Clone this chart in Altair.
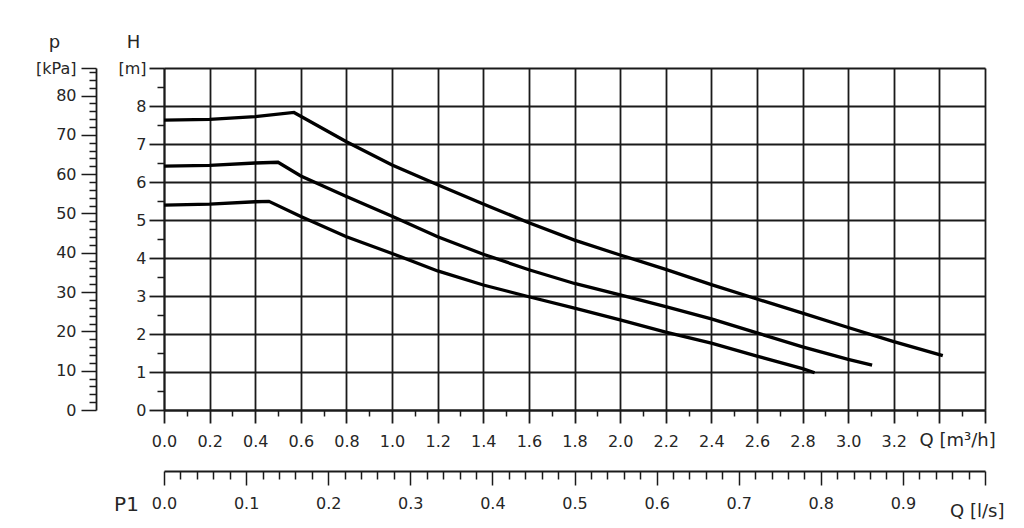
import altair as alt
import pandas as pd

# ---- curve data (Q in m3/h, H in m) ----
q_top = [0.0, 0.2, 0.4, 0.57, 0.8, 1.0, 1.2, 1.4, 1.6, 1.8, 2.0, 2.2, 2.4, 2.6, 2.8, 3.0, 3.2, 3.415]
h_top = [7.63, 7.65, 7.72, 7.83, 7.06, 6.45, 5.93, 5.42, 4.93, 4.47, 4.08, 3.70, 3.30, 2.92, 2.55, 2.17, 1.80, 1.43]

q_mid = [0.0, 0.2, 0.4, 0.5, 0.6, 0.8, 1.0, 1.2, 1.4, 1.6, 1.8, 2.0, 2.2, 2.4, 2.6, 2.8, 3.0, 3.105]
h_mid = [6.42, 6.44, 6.50, 6.52, 6.16, 5.62, 5.10, 4.56, 4.10, 3.69, 3.33, 3.03, 2.72, 2.40, 2.03, 1.66, 1.33, 1.18]

q_low = [0.0, 0.2, 0.4, 0.46, 0.6, 0.8, 1.0, 1.2, 1.4, 1.6, 1.8, 2.0, 2.2, 2.4, 2.6, 2.8, 2.853]
h_low = [5.39, 5.42, 5.48, 5.49, 5.09, 4.56, 4.12, 3.66, 3.29, 2.98, 2.68, 2.37, 2.05, 1.76, 1.42, 1.09, 0.98]

# ---- axis tick values ----
q_major = [round(0.2 * i, 1) for i in range(19)]          # 0.0 .. 3.6
q_minor = [round(0.1 + 0.2 * i, 1) for i in range(18)]    # 0.1 .. 3.5
h_major = list(range(10))                                  # 0 .. 9
h_minor = [0.5 + i for i in range(9)]
p_major = [0, 10, 20, 30, 40, 50, 60, 70, 80, 87]
p_minor = [v for v in range(2, 87, 2) if v % 10 != 0]
ls_major = [round(0.1 * i, 1) for i in range(11)]         # 0.0 .. 1.0
ls_minor = [round(0.02 * i, 2) for i in range(51) if i % 5 != 0]

rows = []
for name, qs, hs in [("top", q_top, h_top), ("mid", q_mid, h_mid), ("low", q_low, h_low)]:
    for i, (q, h) in enumerate(zip(qs, hs)):
        rows.append({"curve": name, "order": i, "Q": q, "H": h})
df = pd.DataFrame(rows)
df["p"] = df["H"] * 9.80665
df["Qls"] = df["Q"] / 3.6

FONT = "DejaVu Sans"
TXT = "#262626"
GRID = "#1a1a1a"
FS = 16

q_scale = alt.Scale(domain=[0, 3.6], nice=False, zero=False)
h_scale = alt.Scale(domain=[0, 9], nice=False, zero=False)
p_scale = alt.Scale(domain=[0, 87], nice=False, zero=False)
ls_scale = alt.Scale(domain=[0, 1.0], nice=False, zero=False)

common = dict(labelFont=FONT, titleFont=FONT, labelColor=TXT, titleColor=TXT,
              tickColor=GRID, domainColor=GRID, labelFontSize=FS, titleFontSize=18,
              titleFontWeight="normal", labelOverlap=False, labelFlush=False)

base = alt.Chart(df)

curves = base.mark_line(color="black", strokeWidth=3.3, interpolate="linear").encode(
    x=alt.X("Q:Q", scale=q_scale, axis=alt.Axis(
        orient="bottom", values=q_major, grid=True, gridColor=GRID, gridWidth=1.8, gridOpacity=1,
        tickSize=13, tickWidth=1.8, domainWidth=1.8, labelPadding=10, format=".1f",
        labelExpr="datum.value > 3.3 ? '' : datum.label",
        title="Q [m³/h]", titleX=755, titleY=30, titleAlign="left", titleBaseline="middle",
        **common)),
    y=alt.Y("H:Q", scale=h_scale, axis=alt.Axis(
        orient="left", values=h_major, grid=True, gridColor=GRID, gridWidth=1.8, gridOpacity=1,
        tickSize=15, tickWidth=1.8, domainWidth=1.8, labelPadding=3, format="d",
        labelExpr="datum.value == 9 ? '[m]' : datum.label", labelBaseline="middle",
        title="H", titleAngle=0, titleX=-31, titleY=-26, titleAlign="center", titleBaseline="middle",
        **common)),
    detail="curve:N",
    order="order:Q",
)

q_minor_layer = base.mark_point(opacity=0).encode(
    x=alt.X("Q:Q", scale=q_scale, axis=alt.Axis(
        orient="bottom", values=q_minor, tickSize=6, tickWidth=1.5, labels=False, domain=False,
        grid=False, title=None, tickColor=GRID))
)

h_minor_layer = base.mark_point(opacity=0).encode(
    y=alt.Y("H:Q", scale=h_scale, axis=alt.Axis(
        orient="left", values=h_minor, tickSize=7, tickWidth=1.5, labels=False, domain=False,
        grid=False, title=None, tickColor=GRID))
)

p_layer = base.mark_point(opacity=0).encode(
    y=alt.Y("p:Q", scale=p_scale, axis=alt.Axis(
        orient="left", offset=68, values=p_major, tickSize=15, tickWidth=1.5, domainWidth=1.8,
        labelPadding=5, format="d", grid=False,
        labelExpr="datum.value == 87 ? '[kPa]' : datum.label", labelBaseline="middle",
        title="p", titleAngle=0, titleX=-42, titleY=-26, titleAlign="center", titleBaseline="middle",
        **common))
)

p_minor_layer = base.mark_point(opacity=0).encode(
    y=alt.Y("p:Q", scale=p_scale, axis=alt.Axis(
        orient="left", offset=68, values=p_minor, tickSize=7, tickWidth=1.5, labels=False,
        domain=False, grid=False, title=None, tickColor=GRID))
)

ls_layer = base.mark_point(opacity=0).encode(
    x=alt.X("Qls:Q", scale=ls_scale, axis=alt.Axis(
        orient="bottom", offset=61, values=ls_major, tickSize=14, tickWidth=1.5, domainWidth=1.8,
        labelPadding=10, format=".1f", grid=False,
        labelExpr="datum.value > 0.95 ? '' : datum.label",
        title="Q [l/s]", titleX=840, titleY=40, titleAlign="right", titleBaseline="middle",
        **common))
)

ls_minor_layer = base.mark_point(opacity=0).encode(
    x=alt.X("Qls:Q", scale=ls_scale, axis=alt.Axis(
        orient="bottom", offset=61, values=ls_minor, tickSize=8, tickWidth=1.5, labels=False,
        domain=False, grid=False, tickColor=GRID,
        title="P1", titleFont=FONT, titleFontSize=20, titleFontWeight="normal", titleColor=TXT,
        titleX=-38, titleY=33, titleAlign="center", titleBaseline="middle"))
)

chart = alt.layer(
    curves, q_minor_layer, h_minor_layer, p_layer, p_minor_layer, ls_layer, ls_minor_layer
).resolve_scale(
    x="independent", y="independent"
).properties(
    width=821, height=342,
    autosize=alt.AutoSizeParams(type="none"),
    padding={"left": 156, "top": 60, "right": 26, "bottom": 110},
).configure_view(
    stroke=GRID, strokeWidth=1.8
).configure(background="white")

chart.save("out.html", embed_options={"renderer": "svg", "actions": False})
